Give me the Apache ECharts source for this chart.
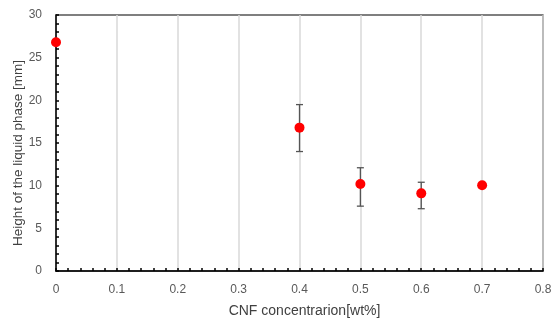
<!DOCTYPE html>
<html><head><meta charset="utf-8">
<script src="https://cdn.jsdelivr.net/npm/echarts@6/dist/echarts.min.js"></script>
<style>html,body{margin:0;padding:0;background:#fff}#c{width:554px;height:320px}</style>
</head><body><div id="c"></div>
<script>
const concentrations = [0, 0.4, 0.5, 0.6, 0.7];
const heights = [26.8, 16.8, 10.2, 9.1, 10.05];
const errLow = [null, 14.0, 7.6, 7.3, null];
const errHigh = [null, 19.5, 12.1, 10.4, null];
const xTicks = [0, 0.1, 0.2, 0.3, 0.4, 0.5, 0.6, 0.7, 0.8];
const yTicks = [0, 5, 10, 15, 20, 25, 30];

const chart = echarts.init(document.getElementById('c'));
const points = concentrations.map((x, i) => [x, heights[i]]);
const errData = concentrations.map((x, i) => [x, errLow[i], errHigh[i]]).filter(d => d[1] != null);
const font = 'Liberation Sans, Arial, sans-serif';
chart.setOption({
  animation: false,
  grid: {left: 56, right: 11, top: 15, bottom: 49, show: true, borderColor: '#000', borderWidth: 1.2,
    containLabel: false, outerBoundsMode: 'none'},
  xAxis: {
    type: 'value', min: 0, max: 0.8, interval: 0.1,
    name: 'CNF concentrarion[wt%]', nameLocation: 'middle', nameGap: 33, nameMoveOverlap: false,
    nameTextStyle: {fontFamily: font, fontSize: 14, color: '#404040', padding: [0, 0, 0, 10]},
    axisLine: {show: true, lineStyle: {color: '#000', width: 1.5}},
    axisTick: {show: true, inside: true, length: 3, lineStyle: {color: '#000', width: 1.5}},
    minorTick: {show: true, splitNumber: 5, length: 3, lineStyle: {color: '#000', width: 1.5}},
    splitLine: {show: true, lineStyle: {color: '#d9d9d9', width: 1.5}},
    axisLabel: {fontFamily: font, fontSize: 12, color: '#595959', margin: 13,
      formatter: v => { const t = xTicks.find(k => Math.abs(k - v) < 1e-9); return t === undefined ? '' : String(t); }}
  },
  yAxis: {
    type: 'value', min: 0, max: 30, interval: 5,
    name: 'Height of the liquid phase [mm]', nameLocation: 'middle', nameGap: 31, nameMoveOverlap: false,
    nameTextStyle: {fontFamily: font, fontSize: 13.5, color: '#404040', padding: [0, 20, 0, 0]},
    axisLine: {show: true, lineStyle: {color: '#000', width: 1.5}},
    axisTick: {show: true, inside: true, length: 3, lineStyle: {color: '#000', width: 1.5}},
    minorTick: {show: true, splitNumber: 5, length: 3, lineStyle: {color: '#000', width: 1.5}},
    splitLine: {show: false},
    axisLabel: {fontFamily: font, fontSize: 12, color: '#595959', margin: 14,
      formatter: v => { const t = yTicks.find(k => Math.abs(k - v) < 1e-9); return t === undefined ? '' : String(t); }}
  },
  series: [
    {
      type: 'custom',
      data: errData,
      z: 3,
      renderItem: function (params, api) {
        const x = api.value(0);
        const lo = api.coord([x, api.value(1)]);
        const hi = api.coord([x, api.value(2)]);
        const w = 3.5;
        const style = {stroke: '#555', lineWidth: 1.3, fill: null};
        return {type: 'group', children: [
          {type: 'line', shape: {x1: lo[0], y1: lo[1], x2: hi[0], y2: hi[1]}, style},
          {type: 'line', shape: {x1: lo[0] - w, y1: lo[1], x2: lo[0] + w, y2: lo[1]}, style},
          {type: 'line', shape: {x1: hi[0] - w, y1: hi[1], x2: hi[0] + w, y2: hi[1]}, style}
        ]};
      }
    },
    {
      type: 'scatter', data: points, symbol: 'circle', symbolSize: 10, z: 4,
      itemStyle: {color: '#ff0000', opacity: 1}
    }
  ]
});
</script></body></html>
